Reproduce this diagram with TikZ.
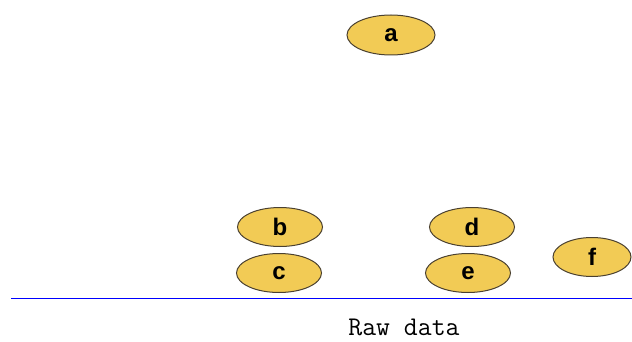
\documentclass[tikz,border=0pt]{standalone}
\usetikzlibrary{shapes.geometric}
\usepackage{fontspec}
\setmainfont{Liberation Sans}
\definecolor{gold}{HTML}{F2CB55}
\definecolor{rim}{HTML}{4A4030}
\begin{document}
\begin{tikzpicture}[x=1pt,y=-1pt,
  blob/.style={ellipse,draw=rim,line width=1pt,fill=gold,minimum width=#1,minimum height=39pt,inner sep=0pt,font=\fontsize{24}{24}\selectfont\bfseries},
  blob/.default=85pt]
\useasboundingbox (0,0) rectangle (632,342);
\node[blob=88pt,minimum height=40pt] (a) at (391,35) {a};
\node[blob] (b) at (280,227) {b};
\node[blob] (c) at (279,273) {c};
\node[blob] (d) at (472,227) {d};
\node[blob] (e) at (468,273) {e};
\node[blob=78pt] (f) at (592,257) {f};
\coordinate (l1) at (11,298);
\coordinate (l2) at (632,298);
\draw[blue,line width=1pt] (l1) -- (l2);
\node[font=\ttfamily\fontsize{27}{27}\selectfont] (cap) at (404,327) {Raw data};
\end{tikzpicture}
\end{document}
